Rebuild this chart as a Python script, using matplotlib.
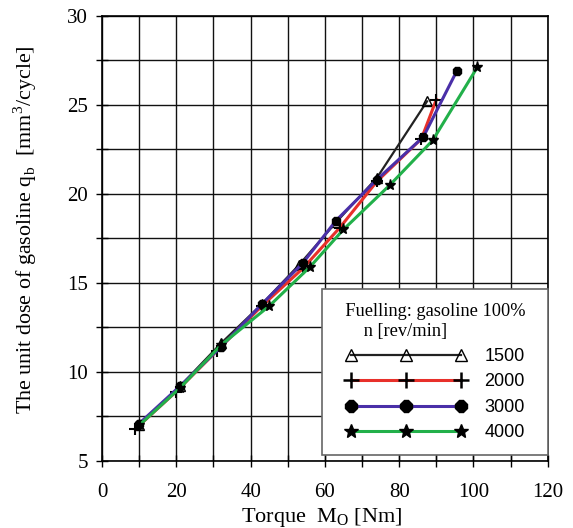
import matplotlib.pyplot as plt
from matplotlib.lines import Line2D

plt.rcParams["font.family"] = "Liberation Serif"
plt.rcParams["mathtext.fontset"] = "custom"
plt.rcParams["mathtext.rm"] = "Liberation Serif"

# values
x_1500 = [10, 21, 32, 43, 53, 63, 74, 87.5]
y_1500 = [7.0, 9.2, 11.6, 13.8, 16.0, 18.4, 20.9, 25.2]

x_2000 = [9, 20, 31, 43, 54, 64, 74, 86, 90]
y_2000 = [6.8, 8.9, 11.2, 13.7, 15.8, 18.1, 20.7, 23.1, 25.3]

x_3000 = [10, 21, 32, 43, 54, 63, 74, 86.5, 95.5]
y_3000 = [7.1, 9.2, 11.4, 13.8, 16.1, 18.5, 20.8, 23.2, 26.9]

x_4000 = [10, 21, 32, 45, 56, 65, 77.5, 89, 101]
y_4000 = [7.0, 9.1, 11.5, 13.7, 15.9, 18.0, 20.5, 23.0, 27.1]

labels = ["1500", "2000", "3000", "4000"]

fig = plt.figure(figsize=(5.73, 5.28), dpi=100)
ax = fig.add_axes([0.178, 0.127, 0.778, 0.843])

ax.plot(x_1500, y_1500, color="#222222", lw=1.6, marker="^", mfc="none", mec="black", ms=7, zorder=3)
ax.plot(x_2000, y_2000, color="#e8302a", lw=2.2, marker="+", mec="black", ms=9, mew=1.5, zorder=3)
ax.plot(x_3000, y_3000, color="#4a2fa8", lw=2.2, marker="8", mfc="black", mec="black", ms=7, zorder=3)
ax.plot(x_4000, y_4000, color="#22b04a", lw=2.2, marker="*", mfc="black", mec="black", ms=8, zorder=3)

ax.set_xlim(0, 120)
ax.set_ylim(5, 30)
ax.set_xticks(range(0, 121, 20))
ax.set_xticks(range(0, 121, 10), minor=True)
ax.set_yticks(range(5, 31, 5))
ax.set_yticks([5 + 2.5 * i for i in range(11)], minor=True)
ax.grid(True, which="both", color="#111111", lw=1.0)
ax.tick_params(which="both", direction="inout", length=8, width=1, labelsize=15)
ax.tick_params(axis="x", pad=12)
ax.tick_params(axis="y", pad=6)
for s in ax.spines.values():
    s.set_linewidth(1.2)

ax.set_xlabel(r"Torque  M$_{\mathrm{O}}$ [Nm]", fontsize=16)
ax.xaxis.set_label_coords(0.493, -0.126)
ax.xaxis.label.set_verticalalignment("center")
ax.set_ylabel(r"The unit dose of gasoline q$_{\mathrm{b}}$  [mm$^3$/cycle]", fontsize=15.8)
ax.yaxis.set_label_coords(-0.173, 0.519)
ax.yaxis.label.set_verticalalignment("center")

handles = [
    Line2D([], [], color="#222222", lw=1.6, marker="^", mfc="none", mec="black", ms=8),
    Line2D([], [], color="#e8302a", lw=2.2, marker="+", mec="black", ms=11, mew=1.8),
    Line2D([], [], color="#4a2fa8", lw=2.2, marker="8", mfc="black", mec="black", ms=9),
    Line2D([], [], color="#22b04a", lw=2.2, marker="*", mfc="black", mec="black", ms=10),
]
leg = ax.legend(handles, labels, loc="lower right", numpoints=3, handlelength=6.7,
                bbox_to_anchor=(548 / 573, 1 - 455 / 528), bbox_transform=fig.transFigure,
                borderaxespad=0,
                title="  Fuelling: gasoline 100%  \n      n [rev/min]            ",
                prop={"family": "Liberation Sans", "size": 13},
                title_fontproperties={"family": "Liberation Serif", "size": 13.2},
                fancybox=False, framealpha=1, edgecolor="#666666",
                labelspacing=0.47, handletextpad=1.0, borderpad=0.75)
leg.get_frame().set_linewidth(1.2)

fig.savefig("out.png", dpi=100)
